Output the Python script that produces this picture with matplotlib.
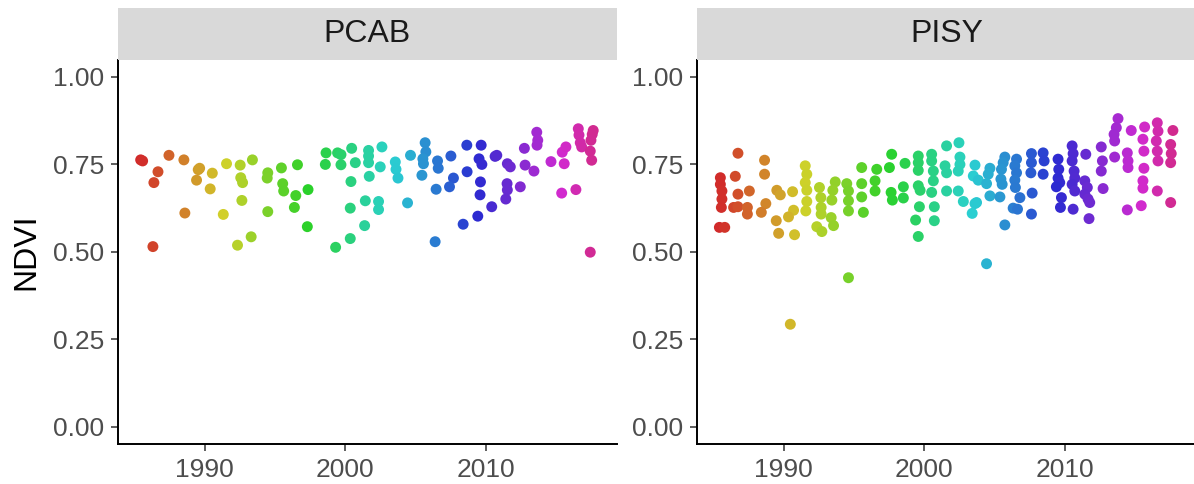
import numpy as np
import matplotlib
matplotlib.use("Agg")
import matplotlib.pyplot as plt
from matplotlib.colors import hsv_to_rgb

plt.rcParams['font.family'] = ['Liberation Sans', 'DejaVu Sans']

panels = ["PCAB", "PISY"]

# PCAB: decimal year / NDVI
pcab_year = [1985.46, 1985.60, 1986.69, 1986.40, 1986.33, 1987.47, 1988.53, 1988.60, 1989.55, 1989.43,
             1989.65, 1990.55, 1990.40, 1991.33, 1991.56, 1992.53, 1992.57, 1992.70, 1992.65, 1992.34,
             1993.31, 1993.40, 1994.49, 1994.45, 1994.49, 1995.46, 1995.55, 1995.62, 1996.60, 1996.48,
             1996.38, 1997.35, 1997.30, 1998.63, 1998.58, 1999.45, 1999.69, 1999.69, 2000.45, 2000.71,
             2000.40, 2000.35, 2000.35, 1999.31, 2001.65, 2001.65, 2001.65, 2002.60, 2002.48, 2001.70,
             2001.42, 2002.36, 2002.36, 2001.37, 2003.55, 2003.60, 2003.74, 2004.42, 2004.63, 2005.67,
             2005.72, 2005.51, 2005.55, 2005.44, 2006.38, 2006.55, 2006.60, 2006.45, 2007.50, 2007.68,
             2007.40, 2008.63, 2008.65, 2008.37, 2009.65, 2009.50, 2009.70, 2009.60, 2009.57, 2009.41,
             2010.64, 2010.76, 2010.40, 2011.51, 2011.72, 2011.49, 2011.51, 2011.40, 2012.43, 2012.72,
             2012.77, 2013.40, 2013.60, 2013.67, 2013.62, 2014.61, 2015.55, 2015.41, 2015.67, 2015.37,
             2016.38, 2016.55, 2016.60, 2016.69, 2016.79, 2017.61, 2017.54, 2017.45, 2017.40, 2017.50,
             2017.40]
pcab_ndvi = [0.763, 0.760, 0.729, 0.698, 0.515, 0.776, 0.763, 0.611, 0.735, 0.705,
             0.739, 0.725, 0.680, 0.607, 0.752, 0.748, 0.712, 0.698, 0.647, 0.519,
             0.543, 0.763, 0.726, 0.711, 0.615, 0.740, 0.695, 0.674, 0.749, 0.661,
             0.627, 0.678, 0.572, 0.783, 0.750, 0.783, 0.778, 0.749, 0.796, 0.755,
             0.701, 0.625, 0.538, 0.513, 0.790, 0.774, 0.755, 0.800, 0.743, 0.716,
             0.646, 0.644, 0.621, 0.575, 0.757, 0.736, 0.711, 0.640, 0.776, 0.812,
             0.786, 0.766, 0.752, 0.719, 0.529, 0.760, 0.739, 0.679, 0.774, 0.711,
             0.686, 0.805, 0.729, 0.579, 0.805, 0.766, 0.750, 0.700, 0.663, 0.602,
             0.773, 0.776, 0.629, 0.752, 0.743, 0.695, 0.677, 0.651, 0.686, 0.796,
             0.748, 0.731, 0.842, 0.819, 0.805, 0.758, 0.752, 0.785, 0.800, 0.668,
             0.678, 0.852, 0.834, 0.812, 0.800, 0.847, 0.836, 0.819, 0.788, 0.762,
             0.499]

# PISY: decimal year / NDVI
pisy_year = [1985.51, 1985.51, 1985.62, 1985.62, 1985.58, 1985.44, 1985.82,
             1986.57, 1986.76, 1986.76, 1986.45, 1986.76,
             1987.57, 1987.43, 1987.43,
             1988.65, 1988.65, 1988.74, 1988.42,
             1989.52, 1989.77, 1989.48, 1989.65,
             1990.64, 1990.71, 1990.35, 1990.78, 1990.48,
             1991.54, 1991.65, 1991.54, 1991.65, 1991.65, 1991.58,
             1992.55, 1992.65, 1992.67, 1992.67, 1992.36, 1992.72,
             1993.67, 1993.50, 1993.43, 1993.38, 1993.55,
             1994.49, 1994.61, 1994.61, 1994.61, 1994.61,
             1995.55, 1995.55, 1995.55, 1995.67,
             1996.62, 1996.50, 1996.50,
             1997.68, 1997.52, 1997.64, 1997.73,
             1998.63, 1998.51, 1998.51,
             1999.57, 1999.57, 1999.57, 1999.57, 1999.70, 1999.65, 1999.38, 1999.57,
             2000.52, 2000.52, 2000.64, 2000.64, 2000.52, 2000.71, 2000.71,
             2001.58, 2001.47, 2001.58, 2001.58,
             2002.46, 2002.53, 2002.53, 2002.41, 2002.41, 2002.77,
             2003.60, 2003.48, 2003.83, 2003.71, 2003.60, 2003.40,
             2004.66, 2004.54, 2004.42, 2004.66, 2005.37, 2004.42,
             2005.72, 2005.60, 2005.48, 2005.44, 2005.53, 2005.72,
             2006.55, 2006.43, 2006.55, 2006.43, 2006.47, 2006.79, 2006.31, 2006.62,
             2007.61, 2007.61, 2007.57, 2007.66, 2007.61,
             2008.44, 2008.51, 2008.44,
             2009.50, 2009.55, 2009.50, 2009.62, 2009.38, 2009.74, 2009.67,
             2010.50, 2010.57, 2010.50, 2010.64, 2010.69, 2010.50, 2010.69, 2010.57,
             2011.47, 2011.40, 2011.58, 2011.40, 2011.63, 2011.75, 2011.70,
             2012.57, 2012.65, 2012.57, 2012.70,
             2013.76, 2013.64, 2013.48, 2013.52, 2013.52,
             2014.42, 2014.47, 2014.47, 2014.42, 2014.70,
             2015.65, 2015.53, 2015.60, 2015.60, 2015.53, 2015.53, 2015.41,
             2016.55, 2016.60, 2016.48, 2016.55, 2016.60, 2016.55,
             2017.66, 2017.50, 2017.54, 2017.50, 2017.50]
pisy_ndvi = [0.712, 0.693, 0.674, 0.651, 0.627, 0.570, 0.570,
             0.716, 0.782, 0.665, 0.627, 0.629,
             0.674, 0.627, 0.608,
             0.762, 0.722, 0.638, 0.613,
             0.676, 0.663, 0.589, 0.553,
             0.672, 0.619, 0.600, 0.549, 0.293,
             0.746, 0.722, 0.698, 0.676, 0.644, 0.617,
             0.684, 0.655, 0.627, 0.608, 0.572, 0.558,
             0.700, 0.676, 0.648, 0.598, 0.575,
             0.695, 0.674, 0.646, 0.617, 0.426,
             0.741, 0.695, 0.657, 0.613,
             0.736, 0.703, 0.674,
             0.779, 0.741, 0.670, 0.648,
             0.753, 0.686, 0.654,
             0.774, 0.755, 0.733, 0.689, 0.676, 0.629, 0.591, 0.544,
             0.779, 0.760, 0.731, 0.703, 0.670, 0.629, 0.589,
             0.803, 0.746, 0.726, 0.674,
             0.812, 0.771, 0.750, 0.731, 0.674, 0.644,
             0.748, 0.717, 0.705, 0.641, 0.638, 0.610,
             0.739, 0.722, 0.695, 0.660, 0.657, 0.466,
             0.771, 0.755, 0.736, 0.708, 0.693, 0.577,
             0.765, 0.746, 0.726, 0.705, 0.684, 0.655, 0.625, 0.622,
             0.781, 0.755, 0.726, 0.668, 0.608,
             0.783, 0.760, 0.722,
             0.765, 0.736, 0.711, 0.698, 0.686, 0.655, 0.627,
             0.803, 0.781, 0.760, 0.731, 0.711, 0.693, 0.674, 0.622,
             0.779, 0.703, 0.684, 0.665, 0.651, 0.641, 0.595,
             0.800, 0.760, 0.731, 0.681,
             0.881, 0.855, 0.836, 0.817, 0.771,
             0.783, 0.760, 0.741, 0.620, 0.847,
             0.857, 0.822, 0.788, 0.739, 0.703, 0.682, 0.632,
             0.869, 0.845, 0.817, 0.788, 0.760, 0.674,
             0.847, 0.807, 0.781, 0.755, 0.641]

x_ticks = [1990, 2000, 2010]
y_ticks = [0.00, 0.25, 0.50, 0.75, 1.00]

years = [np.array(pcab_year), np.array(pisy_year)]
ndvis = [np.array(pcab_ndvi), np.array(pisy_ndvi)]
ymin = min(a.min() for a in years)
ymax = max(a.max() for a in years)


def year_colors(yr):
    t = (yr - ymin) / (ymax - ymin)
    hsv = np.stack([0.9 * t, np.full_like(t, 0.80), np.full_like(t, 0.82)], axis=1)
    return hsv_to_rgb(hsv)


W, H = 1194, 484
fig = plt.figure(figsize=(W / 100, H / 100), dpi=100)

lefts = [118, 697]
width = 499
top, bottom = 59.5, 444.2
strip_top = 8

for i, name in enumerate(panels):
    l = lefts[i]
    ax = fig.add_axes([l / W, 1 - bottom / H, width / W, (bottom - top) / H])
    ax.scatter(years[i], ndvis[i], c=year_colors(years[i]), s=62, linewidths=0, zorder=3)
    ax.set_xlim(1983.85, 2019.3)
    ax.set_ylim(-0.05, 1.05)
    ax.set_xticks(x_ticks)
    ax.set_yticks(y_ticks)
    ax.set_yticklabels([f"{v:.2f}" for v in y_ticks])
    for s in ["top", "right"]:
        ax.spines[s].set_visible(False)
    for s in ["left", "bottom"]:
        ax.spines[s].set_linewidth(1.4)
        ax.spines[s].set_color("black")
    ax.tick_params(axis="both", length=5, width=1.1, color="#333333",
                   labelsize=19, labelcolor="#4D4D4D", pad=5)
    if i == 0:
        ax.set_ylabel("NDVI", fontsize=23, color="black", labelpad=8)

    sax = fig.add_axes([l / W, 1 - top / H, width / W, (top - strip_top) / H])
    sax.set_facecolor("#D9D9D9")
    sax.set_xticks([])
    sax.set_yticks([])
    for s in sax.spines.values():
        s.set_visible(False)
    sax.text(0.5, 0.5, name, ha="center", va="center", fontsize=23,
             color="#1A1A1A", transform=sax.transAxes)

fig.savefig("out.png", dpi=100)
